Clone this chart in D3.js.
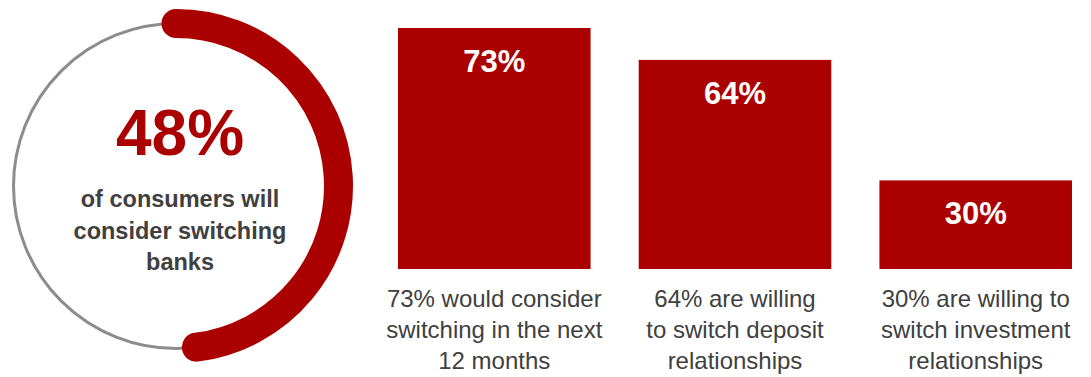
<!DOCTYPE html>
<html>
<head>
<meta charset="utf-8">
<script src="https://cdn.jsdelivr.net/npm/d3@7"></script>
<style>
  body { margin: 0; background: #fff; }
  svg { display: block; font-family: "Liberation Sans", Arial, sans-serif; }
</style>
</head>
<body>
<svg id="chart" width="1091" height="377"></svg>
<script>
// headline share
const headlineValue = 48;
const headlineLines = ['of consumers will', 'consider switching', 'banks'];

// bars
const categories = ['next12', 'deposit', 'investment'];
const barValues = [73, 64, 30];
const barLabels = [
  ['73% would consider', 'switching in the next', '12 months'],
  ['64% are willing', 'to switch deposit', 'relationships'],
  ['30% are willing to', 'switch investment', 'relationships']
];

const red = '#ab0000';
const textGray = '#404040';

const svg = d3.select('#chart');

// ring on the left
const cx = 176, cy = 186, r = 162.5;
const ring = svg.append('g').attr('transform', `translate(${cx},${cy})`);

ring.append('circle')
  .attr('r', r)
  .attr('fill', 'none')
  .attr('stroke', '#8c8c8c')
  .attr('stroke-width', 3);

const angle = d3.scaleLinear().domain([0, 100]).range([0, 2 * Math.PI]);
const arcPath = d3.path();
arcPath.arc(0, 0, r, angle(0) - Math.PI / 2, angle(headlineValue) - Math.PI / 2);

ring.append('path')
  .attr('d', arcPath.toString())
  .attr('fill', 'none')
  .attr('stroke', red)
  .attr('stroke-width', 29)
  .attr('stroke-linecap', 'round');

svg.append('text')
  .attr('x', 180)
  .attr('y', 155)
  .attr('text-anchor', 'middle')
  .attr('fill', red)
  .style('font-weight', 'bold')
  .style('font-size', '64px')
  .text(headlineValue + '%');

svg.append('g')
  .selectAll('text')
  .data(headlineLines)
  .join('text')
  .attr('x', 180)
  .attr('y', (d, i) => 207 + i * 31.5)
  .attr('text-anchor', 'middle')
  .attr('fill', textGray)
  .style('font-weight', 'bold')
  .style('font-size', '23.5px')
  .text(d => d);

// bar chart
const barBottom = 269;
const x = d3.scaleBand()
  .domain(categories)
  .range([398, 1072])
  .paddingInner(0.2)
  .paddingOuter(0);

const y = d3.scaleLinear()
  .domain([5, 73])
  .range([barBottom, 28]);

const bars = svg.append('g')
  .selectAll('g')
  .data(categories)
  .join('g');

bars.append('rect')
  .attr('x', d => x(d))
  .attr('y', (d, i) => y(barValues[i]))
  .attr('width', x.bandwidth())
  .attr('height', (d, i) => barBottom - y(barValues[i]))
  .attr('fill', red);

bars.append('text')
  .attr('x', d => x(d) + x.bandwidth() / 2)
  .attr('y', (d, i) => y(barValues[i]) + 44)
  .attr('text-anchor', 'middle')
  .attr('fill', '#fff')
  .style('font-weight', 'bold')
  .style('font-size', '31px')
  .text((d, i) => barValues[i] + '%');

// labels under each bar
bars.each(function (d, i) {
  d3.select(this).selectAll('text.cap')
    .data(barLabels[i])
    .join('text')
    .attr('class', 'cap')
    .attr('x', x(d) + x.bandwidth() / 2)
    .attr('y', (t, j) => 307 + j * 31)
    .attr('text-anchor', 'middle')
    .attr('fill', textGray)
    .style('font-size', '24px')
    .text(t => t);
});
</script>
</body>
</html>
